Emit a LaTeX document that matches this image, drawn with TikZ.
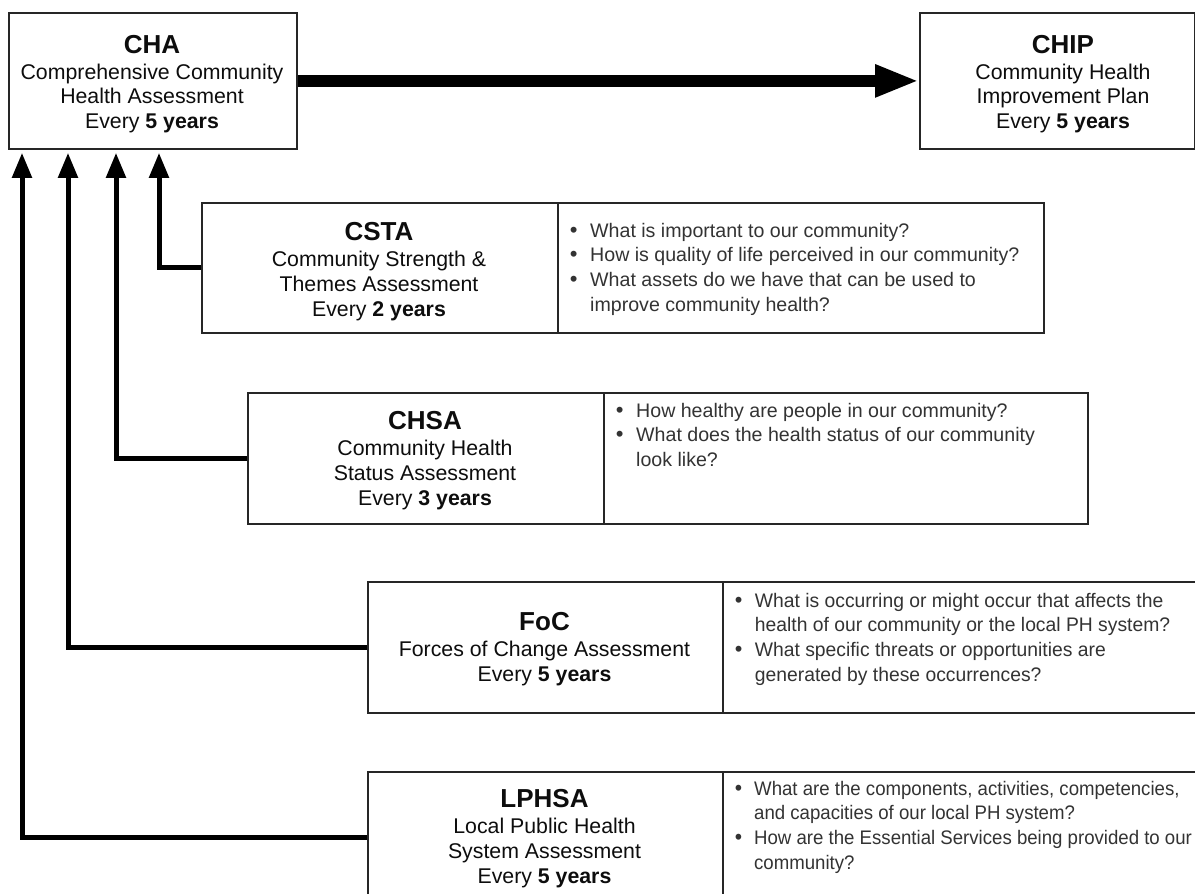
\documentclass[tikz,border=0pt]{standalone}
\usepackage{fontspec}
\usepackage{graphicx}
\setmainfont{Liberation Sans}
\usetikzlibrary{arrows.meta}
\begin{document}
\begin{tikzpicture}[x=1pt,y=-1pt,
  box/.style={draw=black!85,line width=1.8pt,rectangle,inner sep=0pt,anchor=north west,fill=white},
  lbl/.style={align=center,anchor=base,inner sep=0pt,text=black!95,font=\fontsize{21.3}{24.6}\selectfont},
  qs/.style={anchor=base west,inner sep=0pt,text=black!80,font=\fontsize{19.6}{24.7}\selectfont},
  conn/.style={line width=5pt,-{Triangle[width=19pt,length=25pt]},line join=miter},
  bigarrow/.style={line width=12pt,-{Triangle[width=30pt,length=44pt]}},
]
\newcommand{\ttl}[1]{{\fontsize{26}{26}\selectfont\bfseries #1}\\[1.4pt]}
\newcommand{\bul}{\makebox[20.4pt][l]{\fontsize{22}{22}\selectfont\textbullet}}
\useasboundingbox (0,0) rectangle (1195,894);

% boxes
\node[box,minimum width=288pt,minimum height=136pt] (cha) at (8,12) {};
\node[box,minimum width=275pt,minimum height=136pt] (chip) at (919,12) {};
\node[box,minimum width=356pt,minimum height=130pt] (cstaL) at (201,202) {};
\node[box,minimum width=486pt,minimum height=130pt] (cstaR) at (557,202) {};
\node[box,minimum width=356pt,minimum height=131pt] (chsaL) at (247,392) {};
\node[box,minimum width=484pt,minimum height=131pt] (chsaR) at (603,392) {};
\node[box,minimum width=355pt,minimum height=131pt] (focL) at (367,581) {};
\node[box,minimum width=500pt,minimum height=131pt] (focR) at (722,581) {};
\node[box,minimum width=355pt,minimum height=132pt] (lphsaL) at (367,771) {};
\node[box,minimum width=500pt,minimum height=132pt] (lphsaR) at (722,771) {};

% titles (anchor = baseline of last line)
\node[lbl] (chaT) at (152,128.5) {\ttl{CHA}Comprehensive Community\\Health Assessment\\Every \textbf{5 years}};
\node[lbl] (chipT) at (1063,128.5) {\ttl{CHIP}Community Health\\Improvement Plan\\Every \textbf{5 years}};
\node[lbl] (cstaT) at (379,316) {\ttl{CSTA}Community Strength \&\\Themes Assessment\\Every \textbf{2 years}};
\node[lbl] (chsaT) at (425,505) {\ttl{CHSA}Community Health\\Status Assessment\\Every \textbf{3 years}};
\node[lbl] (focT) at (544.5,681) {\ttl{FoC}Forces of Change Assessment\\Every \textbf{5 years}};
\node[lbl] (lphsaT) at (544.5,883) {\ttl{LPHSA}Local Public Health\\System Assessment\\Every \textbf{5 years}};

% questions
\node[qs] (cstaQ) at (569.6,237) {\begin{tabular}[t]{@{}l@{}l@{}}
\bul & What is important to our community?\\
\bul & How is quality of life perceived in our community?\\
\bul & What assets do we have that can be used to\\
 & improve community health?
\end{tabular}};
\node[qs] (chsaQ) at (615.6,417) {\begin{tabular}[t]{@{}l@{}l@{}}
\bul & How healthy are people in our community?\\
\bul & What does the health status of our community\\
 & look like?
\end{tabular}};
\node[qs] (focQ) at (734.6,607) {\scalebox{0.985}[1]{\begin{tabular}[t]{@{}l@{}l@{}}
\bul & What is occurring or might occur that affects the\\
 & health of our community or the local PH system?\\
\bul & What specific threats or opportunities are\\
 & generated by these occurrences?
\end{tabular}}};
\node[qs] (lphsaQ) at (734.6,795) {\scalebox{0.95}[1]{\begin{tabular}[t]{@{}l@{}l@{}}
\bul & What are the components, activities, competencies,\\
 & and capacities of our local PH system?\\
\bul & How are the Essential Services being provided to our\\
 & community?
\end{tabular}}};

% connectors
\draw[bigarrow] (cha.east) -- (chip.west);
\draw[conn] (cstaL.west) -| ([xshift=151pt,yshift=-3pt]cha.south west);
\draw[conn] (chsaL.west) -| ([xshift=108pt,yshift=-3pt]cha.south west);
\draw[conn] (focL.west) -| ([xshift=60pt,yshift=-3pt]cha.south west);
\draw[conn] (lphsaL.west) -| ([xshift=14pt,yshift=-3pt]cha.south west);
\end{tikzpicture}
\end{document}
